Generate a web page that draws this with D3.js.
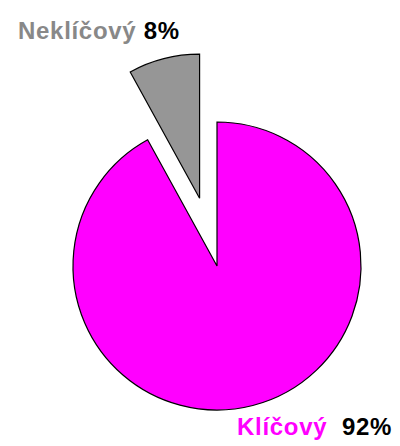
<!DOCTYPE html>
<html>
<head>
<meta charset="utf-8">
<script src="https://cdn.jsdelivr.net/npm/d3@7"></script>
<style>
  html, body { margin: 0; padding: 0; background: #fff; }
  svg { display: block; }
  text { font-family: "Liberation Sans", Arial, sans-serif; font-weight: bold; }
</style>
</head>
<body>
<svg id="chart" width="400" height="446"></svg>
<script>
// Share of key vs. non-key items
const categories = ["Klíčový", "Neklíčový"];
const values = [92, 8];
const valueLabels = ["92%", "8%"];

const colors = ["#ff00ff", "#969696"];
const labelColors = ["#ff00ff", "#888888"];

const svg = d3.select("#chart");
const cx = 217, cy = 266, radius = 144;
const explode = [0, 70];

const pie = d3.pie().sort(null).value(d => d)
  .startAngle(0).endAngle(2 * Math.PI);
const arc = d3.arc().innerRadius(0).outerRadius(radius);
const arcs = pie(values);

const g = svg.append("g").attr("transform", `translate(${cx},${cy})`);

g.selectAll("path")
  .data(arcs)
  .join("path")
  .attr("transform", (d, i) => {
    const mid = (d.startAngle + d.endAngle) / 2;
    const off = explode[i];
    return `translate(${off * Math.sin(mid)},${-off * Math.cos(mid)})`;
  })
  .attr("d", arc)
  .attr("fill", (d, i) => colors[i])
  .attr("stroke", "#000")
  .attr("stroke-width", 1.2)
  .attr("stroke-linejoin", "miter");

// Labels: category name in series colour, value in black
const labelPos = [
  { x: 237, y: 435, gap: "  " },
  { x: 18, y: 39, gap: " " }
];

categories.forEach((c, i) => {
  const t = svg.append("text")
    .attr("x", labelPos[i].x)
    .attr("y", labelPos[i].y)
    .attr("font-size", 24)
    .attr("letter-spacing", 0.7)
    .attr("xml:space", "preserve")
    .style("white-space", "pre");
  t.append("tspan").attr("fill", labelColors[i]).text(c + labelPos[i].gap);
  t.append("tspan").attr("fill", "#000").text(valueLabels[i]);
});
</script>
</body>
</html>
